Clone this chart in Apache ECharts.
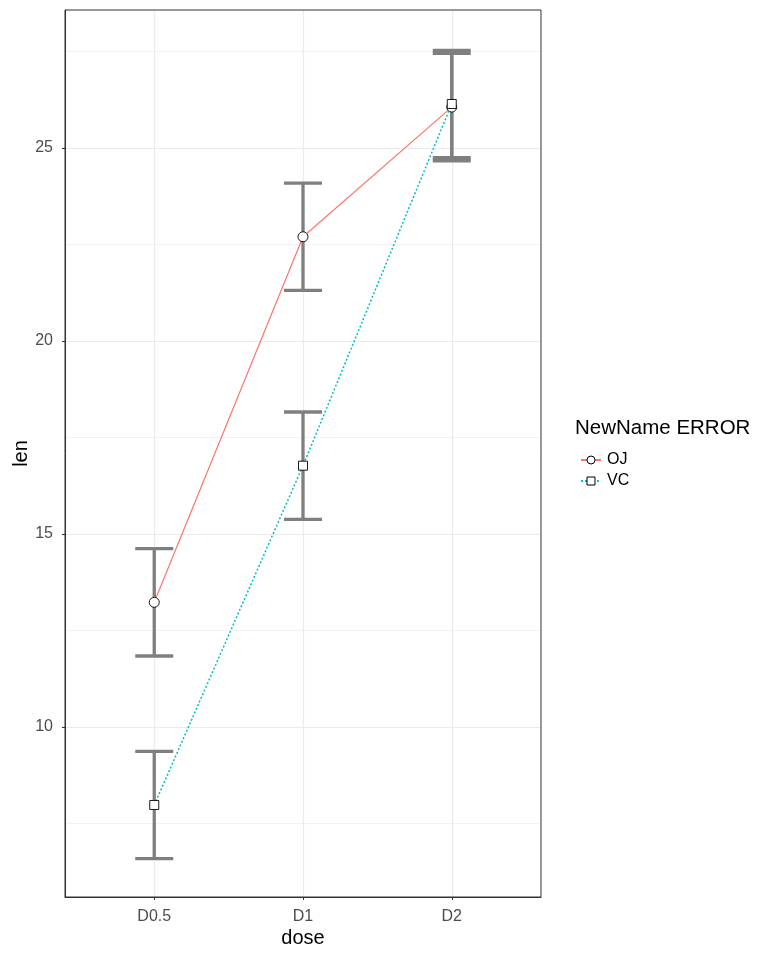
<!DOCTYPE html>
<html>
<head>
<meta charset="utf-8">
<script src="https://cdn.jsdelivr.net/npm/echarts@6/dist/echarts.min.js"></script>
<style>
  html, body { margin: 0; padding: 0; background: #fff; }
  #chart { width: 777px; height: 960px; }
</style>
</head>
<body>
<div id="chart"></div>
<script>
// dose groups and the values
var doses = ['D0.5', 'D1', 'D2'];
var ojMean = [13.23, 22.70, 26.06];
var ojLow = [11.84, 21.31, 24.67];
var ojHigh = [14.62, 24.09, 27.45];
var vcMean = [7.98, 16.77, 26.14];
var vcLow = [6.59, 15.38, 24.75];
var vcHigh = [9.37, 18.16, 27.53];
var yTicks = [10, 15, 20, 25];
var yMinor = [7.5, 12.5, 17.5, 22.5, 27.5];

var chart = echarts.init(document.getElementById('chart'));

function pairs(vals) {
  return vals.map(function (v, i) { return [i, v]; });
}
var errData = [];
for (var i = 0; i < doses.length; i++) {
  errData.push([i, ojLow[i], ojHigh[i]]);
  errData.push([i, vcLow[i], vcHigh[i]]);
}

var font = 'Liberation Sans, Arial, sans-serif';

chart.setOption({
  animation: false,
  textStyle: { fontFamily: font },
  title: {
    text: 'NewName ERROR',
    left: 570,
    top: 413,
    textStyle: { fontSize: 20.5, fontWeight: 'normal', color: '#000', fontFamily: font }
  },
  legend: {
    orient: 'vertical',
    left: 575,
    top: 447,
    itemWidth: 20,
    itemHeight: 10,
    itemGap: 5,
    data: ['OJ', 'VC'],
    itemStyle: { borderWidth: 1 },
    textStyle: { fontSize: 16, color: '#000', fontFamily: font, padding: [0, 0, 0, 1] }
  },
  grid: { left: 65, right: 236, top: 10, bottom: 63, outerBoundsMode: 'none', containLabel: false },
  xAxis: {
    type: 'value',
    min: -0.6,
    max: 2.6,
    name: 'dose',
    nameLocation: 'middle',
    nameGap: 31,
    nameMoveOverlap: false,
    nameTextStyle: { fontSize: 20, color: '#000' },
    axisLine: { show: true, onZero: false, lineStyle: { color: '#333', width: 1 } },
    axisTick: { show: true, customValues: [0, 1, 2], length: 3, lineStyle: { color: '#333' } },
    axisLabel: {
      customValues: [0, 1, 2],
      fontSize: 16,
      color: '#4d4d4d',
      margin: 12,
      formatter: function (v) { return doses[Math.round(v)]; }
    },
    splitLine: { show: false }
  },
  yAxis: {
    type: 'value',
    min: 5.596,
    max: 28.575,
    name: 'len',
    nameLocation: 'middle',
    nameGap: 34,
    nameMoveOverlap: false,
    nameTextStyle: { fontSize: 20, color: '#000' },
    axisLine: { show: true, onZero: false, lineStyle: { color: '#333', width: 1 } },
    axisTick: { show: true, customValues: yTicks, length: 3, lineStyle: { color: '#333' } },
    axisLabel: { customValues: yTicks, fontSize: 16, color: '#4d4d4d', margin: 12 },
    splitLine: { show: false }
  },
  series: [
    {
      // panel grid lines
      type: 'line',
      data: [],
      silent: true,
      z: 0,
      markLine: {
        silent: true,
        z: 0,
        symbol: 'none',
        label: { show: false },
        lineStyle: { color: '#ebebeb', type: 'solid', width: 1.2 },
        data: yTicks.map(function (v) { return { yAxis: v }; })
          .concat([0, 1, 2].map(function (v) { return { xAxis: v }; }))
          .concat(yMinor.map(function (v) { return { yAxis: v, lineStyle: { width: 0.6 } }; }))
      }
    },
    {
      type: 'custom',
      data: errData,
      z: 2,
      renderItem: function (params, api) {
        var x = api.value(0);
        var lo = api.coord([x, api.value(1)]);
        var hi = api.coord([x, api.value(2)]);
        var w = 19;
        var style = { stroke: '#7f7f7f', lineWidth: 3.3 };
        return {
          type: 'group',
          children: [
            { type: 'line', shape: { x1: lo[0], y1: lo[1], x2: hi[0], y2: hi[1] }, style: style },
            { type: 'line', shape: { x1: lo[0] - w, y1: lo[1], x2: lo[0] + w, y2: lo[1] }, style: style },
            { type: 'line', shape: { x1: hi[0] - w, y1: hi[1], x2: hi[0] + w, y2: hi[1] }, style: style }
          ]
        };
      }
    },
    {
      name: 'OJ',
      type: 'line',
      data: pairs(ojMean),
      z: 3,
      symbol: 'circle',
      symbolSize: 10,
      lineStyle: { color: '#F8766D', width: 1.2, type: 'solid' },
      itemStyle: { color: '#fff', borderColor: '#000', borderWidth: 0.9 }
    },
    {
      name: 'VC',
      type: 'line',
      data: pairs(vcMean),
      z: 4,
      symbol: 'rect',
      symbolSize: 9,
      lineStyle: { color: '#00BFC4', width: 1.5, type: [2, 2] },
      itemStyle: { color: '#fff', borderColor: '#000', borderWidth: 0.9 }
    }
  ]
});

// panel border
chart.setOption({
  graphic: [{
    type: 'rect',
    shape: { x: 65, y: 10, width: 476, height: 887 },
    style: { fill: 'none', stroke: '#333', lineWidth: 1 },
    z: 10,
    silent: true
  }]
});
</script>
</body>
</html>
